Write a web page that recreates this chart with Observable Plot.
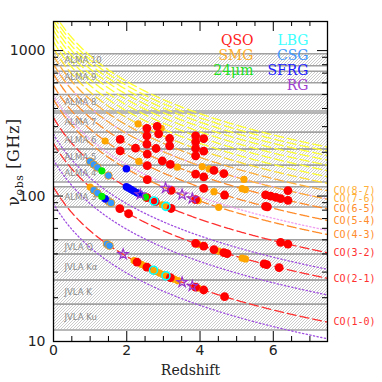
<!DOCTYPE html>
<html><head><meta charset="utf-8">
<script src="https://cdn.jsdelivr.net/npm/d3@7"></script>
<script src="https://cdn.jsdelivr.net/npm/@observablehq/plot@0.6"></script>
<style>body{margin:0;background:#fff}</style>
</head><body><div id="chart"></div>
<script>
// ---- data ----
const bandNames = ["ALMA 3","ALMA 4","ALMA 5","ALMA 6","ALMA 7","ALMA 8","ALMA 9","ALMA 10","JVLA Ku","JVLA K","JVLA Kα","JVLA Q"];
const bandLow  = [84,125,163,211,275,385,602,787,12,18,26.5,40];
const bandHigh = [116,163,211,275,373,500,720,950,18,26.5,40,50];

const coRest = [115.271,230.538,345.796,461.041,576.268,691.473,806.652,921.800,1036.912,1151.985,1267.014,1381.995,1496.923,1611.794,1726.603,1841.346];
const coColor = ["#ff3030","#ff3030","#ff3030","#ff8c2a","#ff8c2a","#ff8c2a","#ffb038","#ffb038","#ffe030","#ffff30","#ffff30","#ffff30","#ffff30","#ffff30","#ffff30","#ffff30"];
const coLabels = ["CO(1-0)","CO(2-1)","CO(3-2)","CO(4-3)","CO(5-4)","CO(6-5)","CO(7-6)","CO(8-7)"];
const dottedRest = [88.632,177.261,265.886,492.161,809.342];
const dottedColor = ["#a050e0","#a050e0","#a050e0","#f0a0f0","#f0a0f0"];

const zMax = 7.48;
const zSamples = d3.range(0, zMax + 0.001, 0.02);

// detections: redshift and CO upper level J
const qsoZ = [2.28,2.55,3.19,3.88,4.10,4.67, 1.81,2.05,3.88,4.10,4.38,4.65,4.74,5.75,5.82,6.16, 2.55,2.78,3.21,6.20,6.40, 2.56,3.21,3.88, 1.82,2.56,4.10,4.67,5.79,5.84, 1.82,2.24,2.56,2.97,3.19,3.88,4.10,5.79,5.93,6.07,6.20,6.40, 2.55,2.80,4.38,4.65,6.40, 2.55,3.17,3.88, 2.55,2.87,3.17,3.88,4.10, 2.83,3.88, 3.88,4.10];
const qsoJ = [1,1,1,1,1,1, 2,2,2,2,2,2,2,2,2,2, 3,3,3,3,3, 4,4,4, 5,5,5,5,5,5, 6,6,6,6,6,6,6,6,6,6,6,6, 7,7,7,7,7, 8,8,8, 9,9,9,9,9, 10,10, 11,11];
const smgZ = [2.2,2.3,2.4,2.5,2.6,2.7,2.8,2.9,3.0,3.1,3.2,3.3,3.4,3.95, 1.0,3.95,4.51,5.15,5.24, 2.97,3.08, 4.51,3.95, 1.41,2.33,4.38, 3.38,5.15,5.24, 4.06,4.25,5.2, 2.31, 2.94];
const smgJ = [1,1,1,1,1,1,1,1,1,1,1,1,1,1, 2,2,2,2,2, 3,3, 4,4, 5,5,5, 6,6,6, 7,7,7, 9, 10];
const csgZ = [1.46,1.53, 1.1,1.2,1.5,1.57, 1.0,1.1,1.2,1.5];
const csgJ = [1,1, 2,2,2,2, 3,3,3,3];
const sfrgZ = [1.41, 1.99,2.05,2.12,2.19,2.28,2.35, 1.99];
const sfrgJ = [2, 3,3,3,3,3,3, 4];
const irZ = [1.32, 1.32, 2.51];
const irJ = [2, 3, 3];
const rgZ = [1.90,3.51,3.79, 2.37, 3.06,3.51,3.79];
const rgJ = [1,1,1, 3, 4,4,4];
const lbgZ = [2.73,3.07, 2.74,3.07];
const lbgJ = [1,1, 3,3];

const legendLeft = ["QSO","SMG","24μm"];
const legendLeftColor = ["#ff2020","#ffb030","#20e020"];
const legendRight = ["LBG","CSG","SFRG","RG"];
const legendRightColor = ["#40ffff","#4499ff","#2020ff","#a040d0"];

const xMajor = [0,2,4,6];
const xMinor = [0.5,1,1.5,2.5,3,3.5,4.5,5,5.5,6.5,7];
const yMajor = [10,100,1000];
const yMinor = [20,30,40,50,60,70,80,90,200,300,400,500,600,700,800,900];

// ---- derived tables ----
const bands = bandNames.map((n,i) => ({name:n, lo:bandLow[i], hi:bandHigh[i], mid:Math.sqrt(bandLow[i]*bandHigh[i])}));
const coLines = coRest.flatMap((r,i) => zSamples.map(z => ({z, nu: r/(1+z), J: i+1, c: coColor[i]})));
const dotLines = dottedRest.flatMap((r,i) => zSamples.map(z => ({z, nu: r/(1+z), J: i+1, c: dottedColor[i]})));
const coEnds = coLabels.map((t,i) => ({t, z: zMax, nu: coRest[i]/(1+zMax), c: coColor[i]}));
const pts = (zs, js) => zs.map((z,i) => ({z, nu: coRest[js[i]-1]/(1+z)}));
const legL = legendLeft.map((t,i) => ({t, c: legendLeftColor[i], i}));
const legR = legendRight.map((t,i) => ({t, c: legendRightColor[i], i}));

const W = 382, H = 382, mL = 53, mR = 55, mT = 21, mB = 41;
const fw = W - mL - mR, fh = H - mT - mB;
const legendText = (rows, dx) => rows.map(r => Plot.text([r], {text: "t", fill: "c", frameAnchor: "top-right", dx, dy: 14 + 15 * r.i, textAnchor: "end", fontSize: 14, fontFamily: "DejaVu Serif"}));

const plot = Plot.plot({
  width: W, height: H, marginLeft: mL, marginRight: mR, marginTop: mT, marginBottom: mB,
  x: {domain: [0, zMax], axis: null},
  y: {type: "log", domain: [10, 1585], axis: null},
  style: {background: "white"},
  marks: [
    Plot.rect(bands, {y1: "lo", y2: "hi", fill: "url(#hatch)"}),
    Plot.ruleY(bands, {y: "lo", stroke: "#a0a0a0", strokeWidth: 1.5}),
    Plot.ruleY(bands, {y: "hi", stroke: "#a0a0a0", strokeWidth: 1.5}),
    Plot.line(dotLines, {x: "z", y: "nu", z: "J", stroke: "c", strokeWidth: 1.3, strokeDasharray: "1.3,2.4", clip: true}),
    Plot.line(coLines, {x: "z", y: "nu", z: "J", stroke: "c", strokeWidth: 1.3, strokeDasharray: "9,4", clip: true}),
    Plot.text(bands, {y: "mid", text: "name", frameAnchor: "left", dx: 11, textAnchor: "start", fill: "#8a8a8a", fontSize: 8.5, fontFamily: "DejaVu Sans"}),
    Plot.dot(pts(smgZ, smgJ), {x: "z", y: "nu", r: 3.6, fill: "#ffa500"}),
    Plot.dot(pts(qsoZ, qsoJ), {x: "z", y: "nu", r: 4.4, fill: "#ff0000"}),
    Plot.dot(pts(csgZ, csgJ), {x: "z", y: "nu", r: 3.8, fill: "#3399ff", stroke: "#ff9900", strokeWidth: 0.8}),
    Plot.dot(pts(sfrgZ, sfrgJ), {x: "z", y: "nu", r: 3.8, fill: "#0000ff"}),
    Plot.dot(pts(irZ, irJ), {x: "z", y: "nu", r: 3.6, fill: "#00ee00"}),
    Plot.dot(pts(lbgZ, lbgJ), {x: "z", y: "nu", r: 4, fill: "none", stroke: "#00ffff", strokeWidth: 1.6}),
    Plot.dot(pts(rgZ, rgJ), {x: "z", y: "nu", r: 3.2, symbol: "star", fill: "none", stroke: "#9933cc", strokeWidth: 1.2}),
    Plot.frame({stroke: "black", strokeWidth: 1.3}),
    // ticks (inward)
    Plot.tickX(xMajor, {x: d => d, insetTop: fh - 10, stroke: "black"}),
    Plot.tickX(xMajor, {x: d => d, insetBottom: fh - 10, stroke: "black"}),
    Plot.tickX(xMinor, {x: d => d, insetTop: fh - 5, stroke: "black"}),
    Plot.tickX(xMinor, {x: d => d, insetBottom: fh - 5, stroke: "black"}),
    Plot.tickY(yMajor, {y: d => d, insetRight: fw - 10, stroke: "black"}),
    Plot.tickY(yMajor, {y: d => d, insetLeft: fw - 10, stroke: "black"}),
    Plot.tickY(yMinor, {y: d => d, insetRight: fw - 5, stroke: "black"}),
    Plot.tickY(yMinor, {y: d => d, insetLeft: fw - 5, stroke: "black"}),
    // tick labels
    Plot.text(xMajor, {x: d => d, frameAnchor: "bottom", dy: 13, text: d => String(d), fontSize: 14, fontFamily: "DejaVu Sans", fill: "#222"}),
    Plot.text(yMajor, {y: d => d, frameAnchor: "left", dx: -8, textAnchor: "end", text: d => String(d), fontSize: 14, fontFamily: "DejaVu Sans", fill: "#222"}),
    Plot.text(["Redshift"], {frameAnchor: "bottom", dy: 33, fontSize: 14, fontFamily: "DejaVu Serif", fill: "#222"}),
    // CO labels
    Plot.text(coEnds, {x: "z", y: "nu", text: "t", fill: "c", textAnchor: "start", dx: 6, fontSize: 10, fontFamily: "DejaVu Sans Mono", clip: false}),
    // legend
    ...legendText(legL, -74),
    ...legendText(legR, -19)
  ]
});

// hatch pattern for receiver bands
const svg = d3.select(plot);
const defs = svg.insert("defs", ":first-child");
const pat = defs.append("pattern").attr("id", "hatch").attr("patternUnits", "userSpaceOnUse").attr("width", 3).attr("height", 3);
pat.append("rect").attr("width", 3).attr("height", 3).attr("fill", "white");
pat.append("path").attr("d", "M-0.75,0.75 L0.75,-0.75 M0,3 L3,0 M2.25,3.75 L3.75,2.25").attr("stroke", "#b4b4b4").attr("stroke-width", 0.7);

// y-axis title
const yl = svg.append("text").attr("transform", "translate(19,162) rotate(-90)").attr("text-anchor", "middle")
  .attr("font-family", "DejaVu Serif").attr("font-size", 16).attr("letter-spacing", 0.6).attr("fill", "#222");
yl.append("tspan").text("ν");
yl.append("tspan").attr("font-size", 11).attr("dy", 4).text("obs");
yl.append("tspan").attr("dy", -4).text(" [GHz]");

document.getElementById("chart").appendChild(plot);
</script>
</body></html>
